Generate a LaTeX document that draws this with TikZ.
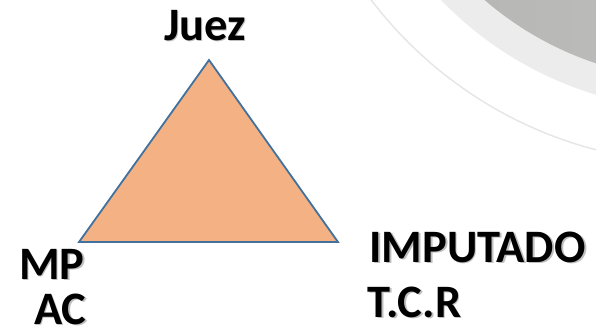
\documentclass[tikz,border=0pt]{standalone}
\usepackage{fontspec}
\setmainfont{Carlito}
\definecolor{trifill}{RGB}{244,177,131}
\definecolor{triline}{RGB}{65,113,156}
\definecolor{bandlight}{RGB}{236,236,236}
\definecolor{banddarkL}{RGB}{180,180,178}
\definecolor{banddarkR}{RGB}{198,198,196}
\definecolor{thinline}{RGB}{230,230,230}
\begin{document}
\begin{tikzpicture}[x=1bp,y=-1bp,
  lbl/.style={inner sep=0pt, font=\fontsize{46.5bp}{52bp}\selectfont\bfseries, text=black},
  shadowlbl/.style={inner sep=0pt, font=\fontsize{46.5bp}{52bp}\selectfont\bfseries, text=black!25}]
\useasboundingbox (0,0) rectangle (596,328);
\begin{scope}
\clip (0,0) rectangle (596,328);
\draw[thinline, line width=1.5bp] (700,-250) circle[radius=413];
\fill[bandlight] (700,-250) circle[radius=360];
\shade[left color=banddarkL, right color=banddarkR] (700,-250) circle[radius=330];
\end{scope}
\coordinate (apex) at (209,60);
\coordinate (bl) at (79,242);
\coordinate (br) at (338,242);
\filldraw[fill=trifill, draw=triline, line width=1.8bp, line join=miter] (apex) -- (br) -- (bl) -- cycle;
% text shadows
\node[shadowlbl, anchor=base] (juezsh) at (206,41) {Juez};
\node[shadowlbl, anchor=base west] (imputadosh) at (370.8,263) {IMPUTADO};
\node[shadowlbl, anchor=base west] (tcrsh) at (368.8,318) {T.C.R};
\node[shadowlbl, anchor=base west] (mpsh) at (20.8,280) {MP};
\node[shadowlbl, anchor=base west] (acsh) at (35.8,325) {AC};
% labels
\node[lbl, anchor=base] (juez) at (205,40) {Juez};
\node[lbl, anchor=base west] (imputado) at (369,262) {IMPUTADO};
\node[lbl, anchor=base west] (tcr) at (367,317) {T.C.R};
\node[lbl, anchor=base west] (mp) at (19,279) {MP};
\node[lbl, anchor=base west] (ac) at (34,324) {AC};
\end{tikzpicture}
\end{document}
